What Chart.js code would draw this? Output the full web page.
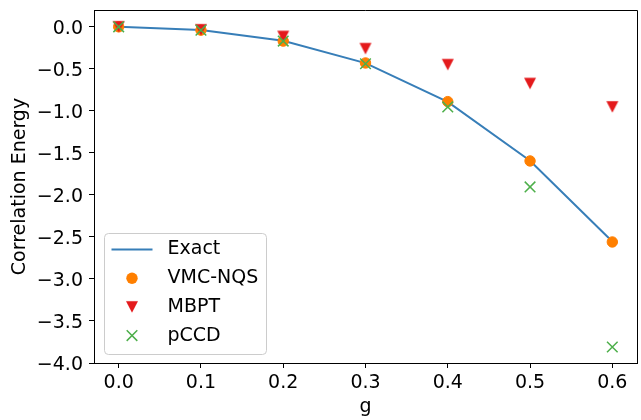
<!DOCTYPE html>
<html>
<head>
<meta charset="utf-8">
<script src="https://cdn.jsdelivr.net/npm/chart.js@4.4.1/dist/chart.umd.min.js"></script>
<style>
    html, body { margin: 0; padding: 0; background: #fff; }
    #c { display: block; }
</style>
</head>
<body>
<canvas id="c" width="641" height="420"></canvas>
<script>
(function () {
    'use strict';

    // --- data ---
    var gValues = [0, 0.1, 0.2, 0.3, 0.4, 0.5, 0.6];
    var exact   = [0, -0.038, -0.167, -0.432, -0.894, -1.593, -2.555];
    var vmcNqs  = [0, -0.04, -0.17, -0.43, -0.89, -1.596, -2.56];
    var mbpt    = [0, -0.035, -0.115, -0.26, -0.45, -0.675, -0.953];
    var pccd    = [0, -0.04, -0.17, -0.44, -0.953, -1.905, -3.81];

    var xTicks = [0, 0.1, 0.2, 0.3, 0.4, 0.5, 0.6];
    var yTicks = [0, -0.5, -1, -1.5, -2, -2.5, -3, -3.5, -4];

    var FONT = 'DejaVu Sans';
    var BLUE = '#377eb8', ORANGE = '#ff7f00', RED = '#e41a1c', GREEN = '#4daf4a';

    function pts(ys) {
        return gValues.map(function (g, i) { return { x: g, y: ys[i] }; });
    }

    function fmt(v) {
        return v.toFixed(1).replace('-', '\u2212');
    }

    // matplotlib-style 'v' marker (centred on its bounding box)
    function downTriangle(w, h, color) {
        var c = document.createElement('canvas');
        c.width = 14; c.height = 14;
        var g = c.getContext('2d');
        var x0 = (14 - w) / 2, y0 = (14 - h) / 2;
        g.fillStyle = color;
        g.beginPath();
        g.moveTo(x0, y0);
        g.lineTo(x0 + w, y0);
        g.lineTo(7, y0 + h);
        g.closePath();
        g.fill();
        return c;
    }
    var triImg = downTriangle(12, 11.5, RED);

    var legendKinds = ['line', 'circle', 'tri', 'cross'];

    var framePlugin = {
        id: 'frameAndLegend',
        afterDraw: function (chart) {
            var ctx = chart.ctx, a = chart.chartArea;
            ctx.save();
            // top + right spines
            ctx.strokeStyle = '#000';
            ctx.lineWidth = 1;
            ctx.beginPath();
            ctx.moveTo(a.left, Math.floor(a.top) + 0.5);
            ctx.lineTo(Math.floor(a.right) + 0.5, Math.floor(a.top) + 0.5);
            ctx.lineTo(Math.floor(a.right) + 0.5, a.bottom);
            ctx.stroke();

            // legend box, lower left
            var bw = 162, bh = 121, r = 4;
            var bx = a.left + 10.5, by = a.bottom - 9 - bh + 0.5;
            ctx.beginPath();
            ctx.moveTo(bx + r, by);
            ctx.lineTo(bx + bw - r, by);
            ctx.arcTo(bx + bw, by, bx + bw, by + r, r);
            ctx.lineTo(bx + bw, by + bh - r);
            ctx.arcTo(bx + bw, by + bh, bx + bw - r, by + bh, r);
            ctx.lineTo(bx + r, by + bh);
            ctx.arcTo(bx, by + bh, bx, by + bh - r, r);
            ctx.lineTo(bx, by + r);
            ctx.arcTo(bx, by, bx + r, by, r);
            ctx.closePath();
            ctx.fillStyle = 'rgba(255,255,255,0.8)';
            ctx.fill();
            ctx.strokeStyle = '#cccccc';
            ctx.stroke();

            ctx.font = '19px "' + FONT + '"';
            ctx.textBaseline = 'middle';
            ctx.textAlign = 'left';
            chart.data.datasets.forEach(function (ds, i) {
                var cy = by + 16 + i * 28.7;
                var mx = bx + 27.5;
                var kind = legendKinds[i];
                if (kind === 'line') {
                    ctx.strokeStyle = ds.borderColor;
                    ctx.lineWidth = 2;
                    ctx.beginPath();
                    ctx.moveTo(bx + 7, cy);
                    ctx.lineTo(bx + 48, cy);
                    ctx.stroke();
                } else if (kind === 'circle') {
                    ctx.fillStyle = ds.pointBackgroundColor;
                    ctx.beginPath();
                    ctx.arc(mx, cy, 5.7, 0, Math.PI * 2);
                    ctx.fill();
                } else if (kind === 'tri') {
                    ctx.drawImage(triImg, mx - 7, cy - 7);
                } else {
                    ctx.strokeStyle = ds.pointBorderColor;
                    ctx.lineWidth = 1.5;
                    ctx.beginPath();
                    ctx.moveTo(mx - 5.3, cy - 5.3); ctx.lineTo(mx + 5.3, cy + 5.3);
                    ctx.moveTo(mx + 5.3, cy - 5.3); ctx.lineTo(mx - 5.3, cy + 5.3);
                    ctx.stroke();
                }
                ctx.fillStyle = '#000';
                ctx.fillText(ds.label, bx + 63, cy);
            });
            ctx.restore();
        }
    };

    var axisGrid = { display: true, drawOnChartArea: false, drawTicks: true, tickLength: 5, color: '#000', lineWidth: 1 };
    var tickFont = { family: FONT, size: 19 };

    new Chart(document.getElementById('c').getContext('2d'), {
        type: 'scatter',
        data: {
            datasets: [
                { label: 'Exact', data: pts(exact), showLine: true, borderColor: BLUE, borderWidth: 2,
                  pointRadius: 0, tension: 0, order: 4 },
                { label: 'VMC-NQS', data: pts(vmcNqs), pointStyle: 'circle', pointRadius: 5.2,
                  pointBackgroundColor: ORANGE, pointBorderColor: ORANGE, pointBorderWidth: 1, order: 3 },
                { label: 'MBPT', data: pts(mbpt), pointStyle: triImg, pointRadius: 6,
                  pointBackgroundColor: RED, pointBorderColor: RED, order: 2 },
                { label: 'pCCD', data: pts(pccd), pointStyle: 'crossRot', pointRadius: 7.5,
                  pointBackgroundColor: GREEN, pointBorderColor: GREEN, pointBorderWidth: 1.5, order: 1 }
            ]
        },
        options: {
            responsive: false,
            devicePixelRatio: 1,
            animation: false,
            layout: { autoPadding: false, padding: { left: 0, right: 4, top: 10, bottom: 0 } },
            plugins: { legend: { display: false }, tooltip: { enabled: false } },
            scales: {
                x: {
                    type: 'linear', min: -0.03, max: 0.63,
                    afterBuildTicks: function (s) { s.ticks = xTicks.map(function (v) { return { value: v }; }); },
                    afterFit: function (s) { s.height = 57; s.paddingLeft = 0; s.paddingRight = 0; },
                    grid: axisGrid,
                    border: { display: true, color: '#000', width: 1 },
                    ticks: { font: tickFont, color: '#000', padding: 4, maxRotation: 0, callback: fmt },
                    title: { display: true, text: 'g', color: '#000', font: tickFont, padding: { top: 2, bottom: 2 } }
                },
                y: {
                    type: 'linear', min: -4, max: 0.2,
                    afterBuildTicks: function (s) { s.ticks = yTicks.map(function (v) { return { value: v }; }); },
                    afterFit: function (s) { s.width = 94; s.paddingTop = 0; s.paddingBottom = 0; },
                    grid: axisGrid,
                    border: { display: true, color: '#000', width: 1 },
                    ticks: { font: tickFont, color: '#000', padding: 6, labelOffset: 2, callback: fmt },
                    title: { display: true, text: 'Correlation Energy', color: '#000', font: tickFont, padding: { top: 9, bottom: 9 } }
                }
            }
        },
        plugins: [framePlugin]
    });
})();
</script>
</body>
</html>
